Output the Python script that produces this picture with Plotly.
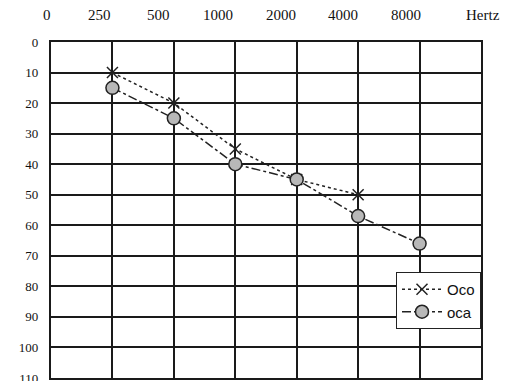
import plotly.graph_objects as go

# frequency columns (index positions on the grid) and labels
freq_labels = ['0', '250', '500', '1000', '2000', '4000', '8000', 'Hertz']
db_ticks = [0, 10, 20, 30, 40, 50, 60, 70, 80, 90, 100, 110]

# series: oco (x markers) and oca (grey circles)
oco_x = [1, 2, 3, 4, 5]
oco_db = [10, 20, 35, 45, 50]
oca_x = [1, 2, 3, 4, 5, 6]
oca_db = [15, 25, 40, 45, 57, 66]

fig = go.Figure()
fig.add_trace(go.Scatter(
    x=oco_x, y=oco_db, name='Oco', mode='lines+markers',
    line=dict(color='#222', width=1.5, dash='dot'),
    marker=dict(symbol='x-thin', size=11, line=dict(color='#222', width=1.5)),
))
fig.add_trace(go.Scatter(
    x=oca_x, y=oca_db, name='oca', mode='lines+markers',
    line=dict(color='#222', width=1.5, dash='dashdot'),
    marker=dict(symbol='circle', size=13, color='#b8b8b8',
                line=dict(color='#222', width=1.5)),
))

# top frequency labels, sitting a little left of their grid lines
label_shift = [-4, -13, -15, -17, -16, -15, -14, 2]
for i, (lab, s) in enumerate(zip(freq_labels, label_shift)):
    fig.add_annotation(x=i, y=1, xref='x', yref='paper', text=lab,
                       showarrow=False, yanchor='bottom', xanchor='center',
                       xshift=s, yshift=17,
                       font=dict(size=15))

# page body adds ~8px margin, so margins are trimmed accordingly
fig.update_layout(
    width=524, height=381,
    plot_bgcolor='white', paper_bgcolor='white',
    margin=dict(l=43, r=51, t=34, b=11),
    font=dict(family='Liberation Serif, Times New Roman, serif', size=14, color='#111'),
    showlegend=True,
    legend=dict(
        x=1, xanchor='right', y=0.146, yanchor='bottom',
        bgcolor='white', bordercolor='#222', borderwidth=1,
        font=dict(family='Liberation Sans, Arial, sans-serif', size=15, color='#111'),
        itemwidth=40, tracegroupgap=0,
    ),
    xaxis=dict(
        range=[0, 7], tickmode='linear', tick0=0, dtick=1, automargin=False,
        showticklabels=False, showgrid=True, gridcolor='#1a1a1a', gridwidth=1.8,
        zeroline=False, showline=True, linecolor='#1a1a1a', linewidth=2.2, mirror=True,
    ),
    yaxis=dict(
        range=[110, 0], tickmode='array', tickvals=db_ticks, automargin=False,
        ticktext=[str(v) for v in db_ticks],
        showgrid=True, gridcolor='#1a1a1a', gridwidth=1.8,
        zeroline=False, showline=True, linecolor='#1a1a1a', linewidth=2.2, mirror=True,
        ticks='', ticklabelstandoff=8, tickfont=dict(size=13),
    ),
)

fig.write_html("out.html")
